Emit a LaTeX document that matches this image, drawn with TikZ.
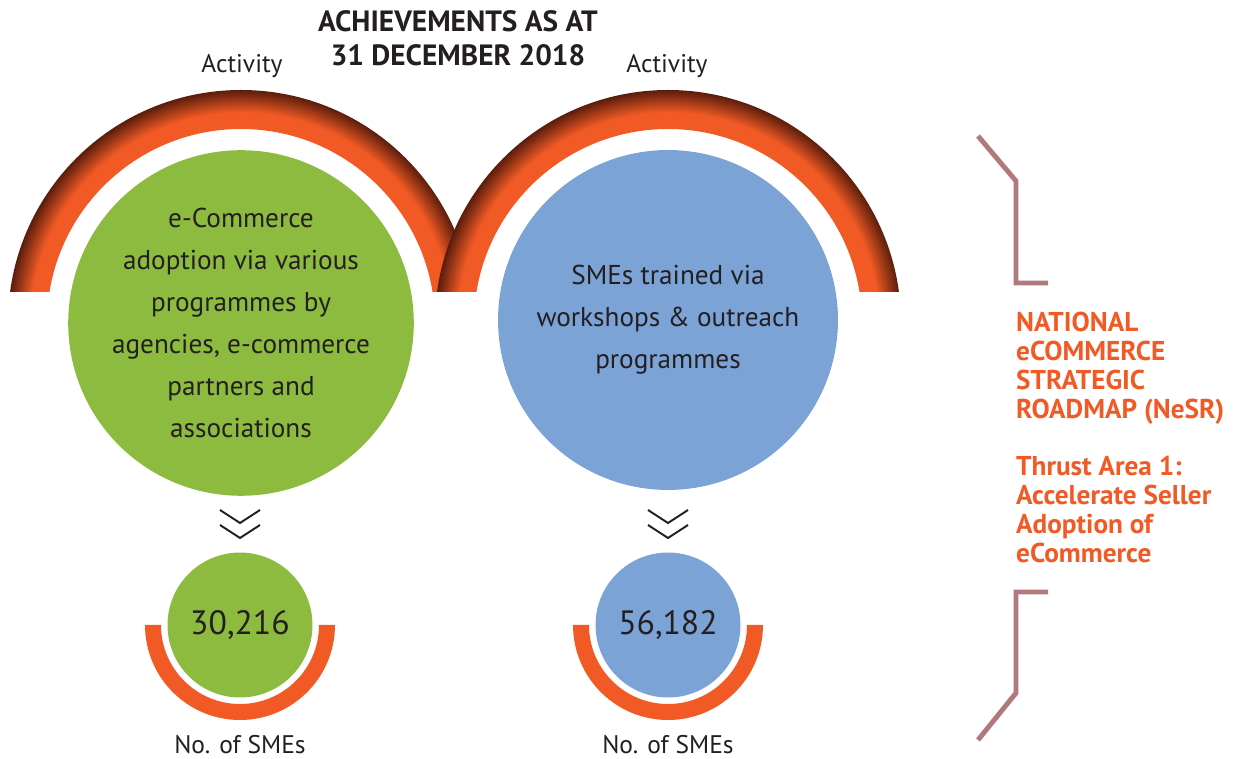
\documentclass[tikz,border=0pt]{standalone}
\usepackage{fontspec}
\setmainfont{PT Sans}
\usetikzlibrary{positioning}
\definecolor{nesrorange}{HTML}{F15A24}
\definecolor{arcbrown}{HTML}{5A1D0C}
\definecolor{adoptgreen}{HTML}{8DBB3F}
\definecolor{trainblue}{HTML}{7BA3D6}
\definecolor{inkgrey}{HTML}{231F20}
\definecolor{bracketrose}{HTML}{B07A7C}
\pgfdeclareradialshading{arcglow}{\pgfpoint{0bp}{0bp}}{color(0bp)=(nesrorange); color(22.6bp)=(nesrorange); color(25bp)=(arcbrown); color(50bp)=(arcbrown)}

\begin{document}
\begin{tikzpicture}[x=0.02cm,y=-0.02cm,
	bigdisc/.style={circle,minimum size=6.8cm,inner sep=0pt,text=inkgrey,align=center,font=\fontsize{15.5}{23.9}\selectfont},
	smalldisc/.style={circle,minimum size=2.9cm,inner sep=0pt,text=inkgrey,font=\fontsize{19.2}{22}\selectfont},
	caption/.style={text=inkgrey,font=\fontsize{14.5}{16}\selectfont},
	chevron/.style={line width=1.1pt,inkgrey},
	bracket/.style={line width=2.8pt,bracketrose},
	cup/.style={fill=nesrorange}]
\useasboundingbox (0,0) rectangle (1237,759);

% shaded half rings
\foreach \cx in {241,668} {
	\begin{scope}[even odd rule]
		\clip (0,0) rectangle (1237,292);
		\clip (\cx,323) circle (233) (\cx,323) circle (194);
		\shade[shading=arcglow] (\cx,323) circle (233);
	\end{scope}
}

\node[bigdisc,fill=adoptgreen]	(adopt)		at (241,323)	{e-Commerce\\adoption via various\\programmes by\\agencies, e-commerce\\partners and\\associations};
\node[bigdisc,fill=trainblue]	(train)		at (668,320)	{SMEs trained via\\workshops \& outreach\\programmes};

\node[caption]					(adoptact)	at (242,66)		{Activity};
\node[caption]					(trainact)	at (667,66)		{Activity};
\node[text=inkgrey,align=center,font=\bfseries\fontsize{16.7}{19.5}\selectfont]
								(title)		at (458,38)		{ACHIEVEMENTS AS AT\\31 DECEMBER 2018};

% cups under the numbers
\foreach \cx in {240,668} {
	\fill[cup] (\cx,625) ++(95,0) arc[start angle=0,end angle=180,radius=95] -- ++(16,0) arc[start angle=180,end angle=0,radius=79] -- cycle;
	\draw[chevron] (\cx-20,510) -- (\cx,523) -- (\cx+20,510);
	\draw[chevron] (\cx-20,525) -- (\cx,538) -- (\cx+20,525);
}

\node[smalldisc,fill=adoptgreen]	(adoptnum)	at (240,625)	{30,216};
\node[smalldisc,fill=trainblue]		(trainnum)	at (668,625)	{56,182};
\node[caption]						(adoptcap)	at (240,745)	{No. of SMEs};
\node[caption]						(traincap)	at (668,745)	{No. of SMEs};

% roadmap bracket
\draw[bracket] (978,136) -- (1016,181) -- (1016,283) -- (1048,283);
\draw[bracket] (1048,592) -- (1016,592) -- (1016,693) -- (978,740);
\node[anchor=north west,text=nesrorange,align=left,font=\bfseries\fontsize{15.5}{16.4}\selectfont]
									(nesr)		at (1010,306)	{NATIONAL\\eCOMMERCE\\STRATEGIC\\ROADMAP (NeSR)\\[16.4pt]Thrust Area 1:\\Accelerate Seller\\Adoption of\\eCommerce};
\end{tikzpicture}
\end{document}
